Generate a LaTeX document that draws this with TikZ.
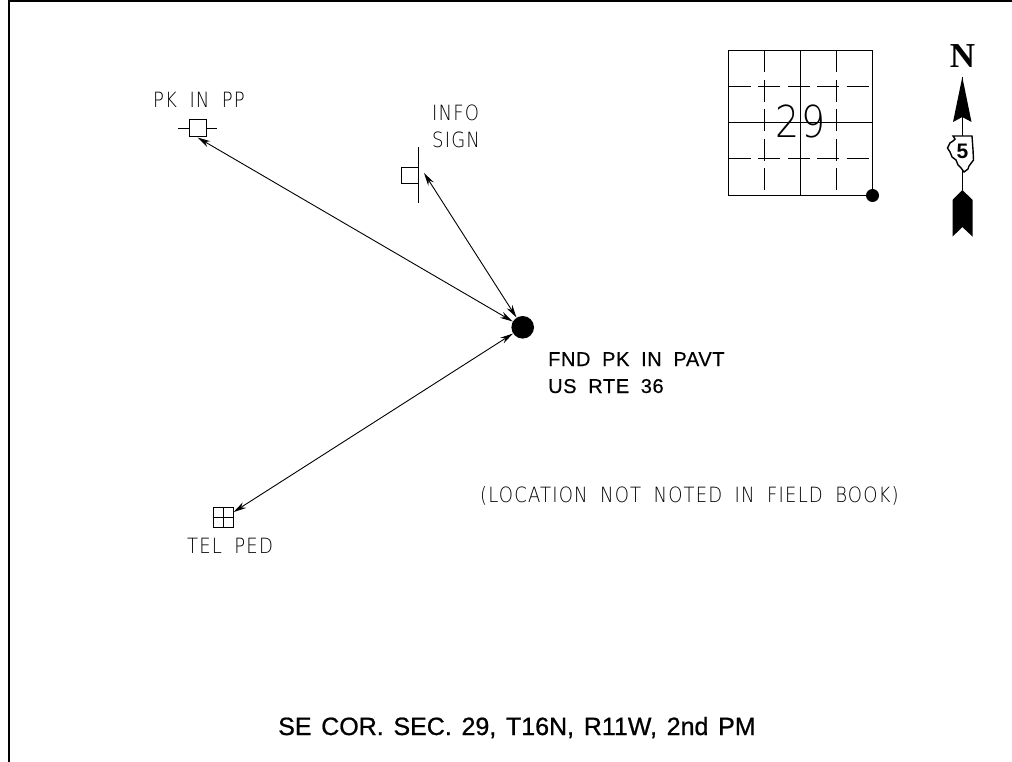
\documentclass[tikz,border=0pt]{standalone}
\usepackage{fontspec}
\usetikzlibrary{arrows.meta}
\newfontfamily\cadlight[FakeStretch=0.86,LetterSpace=5.5,WordSpace=1.8]{DejaVu Sans ExtraLight}
\newfontfamily\cadplain[LetterSpace=3,WordSpace=1.9,FakeBold=0.4]{Liberation Sans}
\newfontfamily\cadtitle[LetterSpace=0,WordSpace=1.4,FakeBold=0.8]{Liberation Sans}
\newfontfamily\cadnorth{Liberation Serif Bold}
\newfontfamily\cadshield{Liberation Sans Bold}
\tikzset{
  lightlabel/.style={anchor=base west,inner sep=0pt,font=\cadlight\fontsize{21}{21}\selectfont},
  plainlabel/.style={anchor=base west,inner sep=0pt,font=\cadplain\fontsize{20}{20}\selectfont},
  marker/.style={draw,line width=1pt,rectangle,inner sep=0pt,minimum size=#1},
  dimline/.style={line width=0.9pt,>={Stealth[length=13pt,width=6.5pt]},<->}
}
\begin{document}
\begin{tikzpicture}[x=1pt,y=-1pt]
      \useasboundingbox (0,0) rectangle (1012,762);
      \draw[line width=1.4pt] (1012,1) -- (9,1) -- (9,762);
      \draw
        (522.7,327.3) node[circle,fill=black,inner sep=0pt,minimum size=22.6pt] (fnd){}
        (197.5,128.5) node[marker=17pt] (pkbox){}
        (410,175.5) node[marker=16.5pt] (signbox){}
        (223,517) node[marker=20pt] (telbox){}
        (424,173) coordinate (signtip)
        (178,128.5) coordinate (pkleft)
        (217,128.5) coordinate (pkright)
        (418,147) coordinate (posttop)
        (418,203) coordinate (postbot)
        (153,108) node[lightlabel] (pklabel){PK IN PP}
        (432,121) node[lightlabel] (infolabel){INFO}
        (432,148) node[lightlabel] (signlabel){SIGN}
        (187,553) node[lightlabel] (tellabel){TEL PED}
        (480,502) node[lightlabel] (notelabel){(LOCATION NOT NOTED IN FIELD BOOK)}
        (548,366) node[plainlabel] (fndlabel){FND PK IN PAVT}
        (548,393) node[plainlabel] (rtelabel){US RTE 36}
        (278,735) node[anchor=base west,inner sep=0pt,font=\cadtitle\fontsize{25}{25}\selectfont] (title){SE COR. SEC. 29, T16N, R11W, 2nd PM};
      \draw[line width=1pt] (pkleft) -- (pkbox.west) (pkbox.east) -- (pkright);
      \draw[line width=1pt] (posttop) -- (postbot);
      \draw[line width=1pt] (telbox.north) -- (telbox.south) (telbox.west) -- (telbox.east);
      \begin{scope}[dimline]
        \draw (pkbox.south) to (fnd);
        \draw (signtip) to (fnd);
        \draw (telbox.25) to (fnd);
      \end{scope}
      % section grid
      \draw
        (800.5,121) node[draw=none,inner sep=0pt,font=\cadlight\fontsize{44}{44}\selectfont] (secnum){29}
        (872.5,195.5) node[circle,fill=black,inner sep=0pt,minimum size=13pt] (corner){};
      \begin{scope}[line width=1.2pt]
        \draw (corner) -- (872.5,50.5) -- (728.5,50.5) -- (728.5,195.5) -- (corner);
        \draw (800.5,50.5) -- (800.5,195.5);
        \draw (728.5,122.5) -- (872.5,122.5);
      \end{scope}
      \begin{scope}[line width=1.2pt,dash pattern=on 22pt off 7.5pt]
        \draw (764.5,50.5) -- (764.5,195.5);
        \draw (836.5,50.5) -- (836.5,195.5);
        \draw (728.5,86.5) -- (872.5,86.5);
        \draw (728.5,158.5) -- (872.5,158.5);
      \end{scope}
      % north arrow
      \draw
        (962.5,56) node[inner sep=0pt,font=\cadnorth\fontsize{35}{35}\selectfont] (north){N}
        (962.3,77) coordinate (arrowtip)
        (962.3,190) coordinate (arrowtail);
      \draw[line width=1.5pt] (arrowtip) -- (arrowtail);
      \fill (arrowtip) -- (971.5,122) -- (962.3,117) -- (953,122) -- cycle;
      \fill (arrowtail) -- (972.7,200) -- (972.7,236.7) -- (962.3,227) -- (952.5,236.7) -- (952.5,200) -- cycle;
      \draw[line width=1.4pt,fill=white] (953,136) -- (972,136) -- (973,150) -- (973.5,160) -- (969,166) -- (968,169)
        -- (964,172) -- (961,168) -- (958,165) -- (956,160) -- (952,157) -- (950,152) -- (947.5,148) -- (950,143) -- (953,141) -- (955,139) -- cycle;
      \node[inner sep=0pt,font=\cadshield\fontsize{21}{21}\selectfont] (shield) at (962.5,151) {5};
    \end{tikzpicture}
\end{document}
